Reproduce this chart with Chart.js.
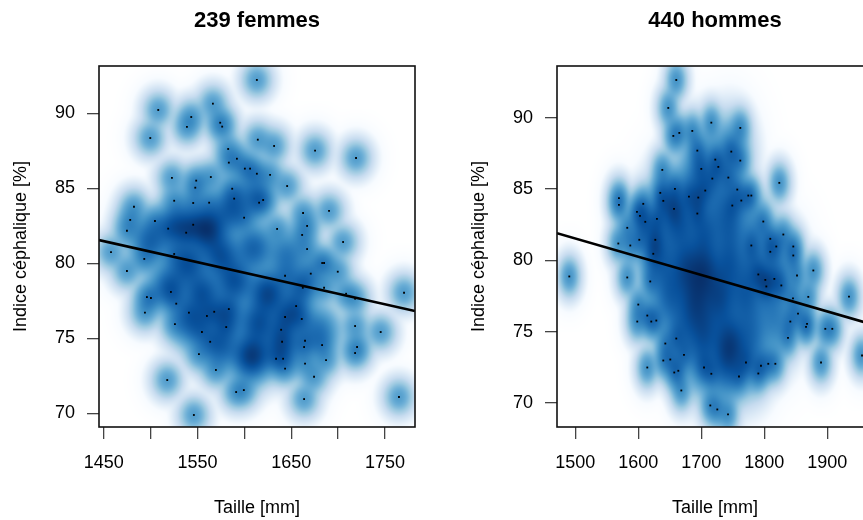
<!DOCTYPE html>
<html>
<head>
<meta charset="utf-8">
<script src="https://cdn.jsdelivr.net/npm/chart.js@4.4.0/dist/chart.umd.min.js"></script>
<style>
  html, body { margin: 0; padding: 0; background: #fff; overflow: hidden; }
  #wrap { position: relative; width: 863px; height: 520px; overflow: hidden; }
  #fem { position: absolute; left: 0; top: 0; }
  #hom { position: absolute; left: 458px; top: 0; }
</style>
</head>
<body>
<div id="wrap">
  <canvas id="fem" width="431" height="520"></canvas>
  <canvas id="hom" width="431" height="520"></canvas>
</div>
<script>
// ---- femmes : points isolés visibles (taille mm, indice %)
const femX = [1613.3,1508.1,1566.4,1543.3,1538.7,1574.2,1576.3,1499.6,1614.3,1582.7,1592.0,1583.4,1600.5,1606.1,1613.3,1522.7,1548.6,1564.2,1547.6,1587.0,1589.1,1525.1,1545.4,1562.4,1615.7,1482.2,1478.2,1599.7,1504.6,1545.4,1518.7,1474.7,1537.9,
  1631.7,1675.4,1719.1,1627.4,1645.6,1620.0,1662.6,1690.3,1666.9,1634.9,1661.6,1705.3,1666.9,
  1457.7,1525.1,1493.2,1474.7,1521.6,1496.0,1500.3,1527.3,1493.9,1540.8,1567.8,1583.4,1560.0,1525.9,1580.6,1554.7,1563.5,1551.5,1569.6,1517.7,1591.2,1599.4,1546.1,
  1683.0,1685.0,1643.4,1670.8,1699.6,1662.3,1685.0,1708.5,1718.1,1770.3,1655.2,1643.4,1661.2,1639.2,1718.1,1745.4,1640.2,1664.7,1663.7,1682.9,1720.2,1718.1,1633.8,1641.3,1687.1,1643.4,1664.7,1674.3,1663.7,1764.9];
const femY = [92.22,90.22,90.64,89.75,89.09,89.37,89.11,88.35,88.24,87.62,86.97,86.71,86.31,86.31,85.97,85.69,85.51,85.75,85.04,84.97,84.31,84.17,84.02,84.04,84.04,83.77,82.89,83.04,82.82,82.57,82.31,82.17,82.04,
  87.82,87.51,87.02,85.89,85.15,84.22,83.35,83.49,82.49,82.29,81.89,81.42,80.95,
  80.75,80.62,80.29,79.49,78.09,77.75,77.69,77.31,76.71,76.71,76.77,76.95,76.49,75.95,75.75,75.42,74.77,73.95,72.89,72.22,71.42,71.55,69.89,
  80.02,80.02,79.17,79.31,79.44,78.37,78.37,77.97,77.64,78.04,77.15,76.42,76.29,75.57,75.82,75.42,74.77,74.84,74.42,74.55,74.42,74.02,73.64,73.64,73.55,72.98,73.31,72.44,70.95,71.09];
// masse cachée du noyau dense (centre, nombre de points estimé)
const femCoreX = [1500,1530,1560,1585,1610,1540,1575,1610,1645,1520,1555,1590,1625,1660,1545,1580,1615,1650,1575,1608,1640,1680];
const femCoreY = [81.5,82.5,82.3,83.5,84.5,80.0,80.5,81.0,80.5,78.5,78.0,78.8,78.0,78.5,76.0,76.5,76.0,76.5,74.5,73.8,74.5,75.5];
const femCoreN = [7,9,14,7,5,9,9,7,5,7,9,9,11,5,7,7,9,7,7,13,7,5];
const femLineX = [1444.9, 1782.0];
const femLineY = [81.55, 76.82];
const femXTicks = [1450,1500,1550,1600,1650,1700,1750];
const femXLabels = [1450,1550,1650,1750];

// ---- hommes
const homX = [1660.3,1647.6,1655.6,1665.1,1685.7,1638.1,1658.2,1634.9,1639.7,1680.4,1569.3,1569.3,1607.9,1597.9,1602.7,1611.1,1629.6,1656.7,1582.5,1568.3,1587.3,1601.6,1627.0,
  1715.9,1761.9,1693.7,1747.6,1722.2,1727.0,1761.9,1700.0,1717.5,1742.9,1823.8,1706.3,1757.1,1774.6,1779.4,1695.2,1763.5,1749.2,1693.7,1798.4,1830.2,1809.5,1779.4,1819.0,1846.0,
  1623.8,1490.5,1582.5,1619.0,1600.0,1614.3,1598.4,1620.6,1628.6,1660.3,1642.9,1672.5,1639.7,1650.8,1614.3,1663.5,1657.1,1668.3,
  1809.5,1846.0,1877.8,1790.5,1801.6,1815.9,1851.9,1803.2,1827.0,1845.5,1869.8,1934.4,1853.5,1841.3,1867.8,1866.2,1896.8,1907.9,1837.6,1955.1,1890.0,1704.3,1715.9,1770.9,1794.7,1806.3,1817.5,1759.8,1790.5,1714.3,1725.4,1742.4];
const homY = [92.64,90.68,88.72,88.93,89.07,86.34,85.01,84.73,84.17,84.47,84.36,83.89,83.96,83.40,83.12,82.70,82.91,83.61,82.28,81.18,81.04,81.44,81.44,
  89.65,89.28,87.69,87.62,87.06,86.55,86.99,86.41,85.73,85.80,85.43,84.89,84.96,84.54,84.54,84.40,84.19,83.84,83.28,82.72,81.81,81.51,81.04,80.97,80.97,
  80.46,78.87,78.80,78.52,76.90,76.13,75.71,75.71,75.78,74.52,74.17,73.38,72.98,73.05,72.49,72.26,72.14,70.88,
  80.60,80.34,79.29,79.01,78.63,78.70,78.94,78.17,78.24,77.33,77.44,77.46,76.27,75.71,75.55,75.34,75.20,75.20,74.57,73.33,72.84,72.49,72.05,72.84,72.61,72.75,72.75,71.86,72.07,69.83,69.55,69.20];
const homCoreX = [1650,1690,1730,1620,1665,1705,1745,1785,1635,1675,1705,1745,1785,1825,1650,1690,1730,1770,1810,1670,1705,1745,1780,1820,1700,1740,1775,1745,1700];
const homCoreY = [84,85,84.5,82,82.5,82,82.5,82,80,79.5,79.2,79.8,79.5,79.5,77.5,77,77.3,77.5,77.5,75,75,74.2,75,75.5,73,72.5,73,87.5,87];
const homCoreN = [6,6,5,6,9,9,8,4,8,11,13,9,6,4,8,11,11,8,4,6,9,13,6,4,5,7,4,5,4];
const homLineX = [1471.0, 1972.5];
const homLineY = [81.90, 75.49];
const homXTicks = [1500,1600,1700,1800,1900];
const homXLabels = [1500,1600,1700,1800,1900];

const yTicks = [70,75,80,85,90];

// palette de smoothScatter : blanc puis blues9
const ramp = ['#FFFFFF','#F7FBFF','#DEEBF7','#C6DBEF','#9ECAE1','#6BAED6','#4292C6','#2171B5','#08519C','#08306B']
  .map(h => [1, 3, 5].map(i => parseInt(h.substr(i, 2), 16)));

function rampColor(t) {
  const p = Math.min(Math.max(t, 0), 1) * (ramp.length - 1);
  const i = Math.min(Math.floor(p), ramp.length - 2), f = p - i;
  return ramp[i].map((c, k) => c + (ramp[i + 1][k] - c) * f);
}

Chart.defaults.font.family = '"Liberation Sans", Arial, sans-serif';
Chart.defaults.font.size = 18;
Chart.defaults.color = '#000';

const density = {
  id: 'density',
  beforeDatasetsDraw(chart, args, opts) {
    const a = chart.chartArea, sx = chart.scales.x, sy = chart.scales.y;
    const x0 = Math.floor(a.left), y0 = Math.floor(a.top);
    const w = Math.ceil(a.right) - x0, h = Math.ceil(a.bottom) - y0;
    const d = new Float64Array(w * h);
    const vx = [], vy = [];
    for (let i = 0; i < w; i++) vx.push(sx.getValueForPixel(x0 + i + 0.5));
    for (let j = 0; j < h; j++) vy.push(sy.getValueForPixel(y0 + j + 0.5));
    opts.kernels.forEach(k => {
      const hx = opts.bw[0] * k.s, hy = opts.bw[1] * k.s;
      const amp = k.n / (k.s * k.s);
      const ex = vx.map(v => Math.exp(-0.5 * ((v - k.x) / hx) ** 2));
      for (let j = 0; j < h; j++) {
        const e = amp * Math.exp(-0.5 * ((vy[j] - k.y) / hy) ** 2);
        if (e < 1e-7) continue;
        const row = j * w;
        for (let i = 0; i < w; i++) d[row + i] += e * ex[i];
      }
    });
    let zmax = 0;
    for (let p = 0; p < d.length; p++) { d[p] = Math.pow(d[p], 0.25); if (d[p] > zmax) zmax = d[p]; }
    const img = chart.ctx.createImageData(w, h);
    for (let p = 0; p < d.length; p++) {
      const c = rampColor(d[p] / zmax);
      img.data[p * 4] = c[0]; img.data[p * 4 + 1] = c[1]; img.data[p * 4 + 2] = c[2]; img.data[p * 4 + 3] = 255;
    }
    chart.ctx.putImageData(img, x0, y0);
  }
};

const frame = {
  id: 'frame',
  afterDraw(chart, args, opts) {
    const {ctx, chartArea: a} = chart;
    ctx.save();
    ctx.strokeStyle = '#111';
    ctx.lineWidth = 1.6;
    ctx.strokeRect(a.left, a.top, a.right - a.left, a.bottom - a.top);
    ctx.fillStyle = '#000';
    ctx.font = 'bold 22px "Liberation Sans", Arial, sans-serif';
    ctx.textAlign = 'center';
    ctx.textBaseline = 'alphabetic';
    ctx.fillText(opts.title, (a.left + a.right) / 2, 27);
    ctx.restore();
  }
};

function makeChart(id, title, xs, ys, coreX, coreY, coreN, spread, bw, lineX, lineY, xMin, xMax, yMin, yMax, xTicks, xLabels) {
  const pts = xs.map((v, i) => ({x: v, y: ys[i]}));
  const kernels = pts.map(p => ({x: p.x, y: p.y, n: 1, s: 1}))
    .concat(coreX.map((v, i) => ({x: v, y: coreY[i], n: coreN[i], s: spread})));
  return new Chart(document.getElementById(id), {
    type: 'scatter',
    data: {
      datasets: [{
        type: 'line',
        data: lineX.map((v, i) => ({x: v, y: lineY[i]})),
        borderColor: '#000',
        borderWidth: 2.6,
        pointRadius: 0
      }, {
        data: pts,
        pointStyle: 'rect',
        pointRadius: 1.3,
        backgroundColor: '#000',
        borderWidth: 0
      }]
    },
    options: {
      responsive: false,
      animation: false,
      events: [],
      layout: {padding: {top: 66, right: 16, left: 0, bottom: 0}},
      scales: {
        x: {
          type: 'linear',
          min: xMin, max: xMax,
          afterBuildTicks: s => { s.ticks = xTicks.map(v => ({value: v})); },
          afterFit: s => { s.height = 93; },
          ticks: {
            padding: 13,
            callback: v => xLabels.includes(v) ? String(v) : ''
          },
          grid: {drawOnChartArea: false, tickLength: 12, color: '#444', lineWidth: 1.3},
          border: {display: false},
          title: {display: true, text: 'Taille [mm]', padding: {top: 0, bottom: 1}}
        },
        y: {
          type: 'linear',
          min: yMin, max: yMax,
          afterBuildTicks: s => { s.ticks = yTicks.map(v => ({value: v})); },
          afterFit: s => { s.width = 99; },
          ticks: {padding: 12},
          grid: {drawOnChartArea: false, tickLength: 12, color: '#444', lineWidth: 1.3},
          border: {display: false},
          title: {display: true, text: 'Indice céphalique [%]', padding: {top: 10, bottom: 0}}
        }
      },
      plugins: {
        legend: {display: false},
        tooltip: {enabled: false},
        density: {kernels: kernels, bw: bw},
        frame: {title: title}
      }
    },
    plugins: [density, frame]
  });
}

makeChart('fem', '239 femmes', femX, femY, femCoreX, femCoreY, femCoreN, 1.5, [7.8, 0.58],
  femLineX, femLineY, 1444.9, 1782, 69.09, 93.15, femXTicks, femXLabels);
makeChart('hom', '440 hommes', homX, homY, homCoreX, homCoreY, homCoreN, 1.9, [8.4, 0.68],
  homLineX, homLineY, 1471, 1972.5, 68.32, 93.62, homXTicks, homXLabels);
</script>
</body>
</html>
